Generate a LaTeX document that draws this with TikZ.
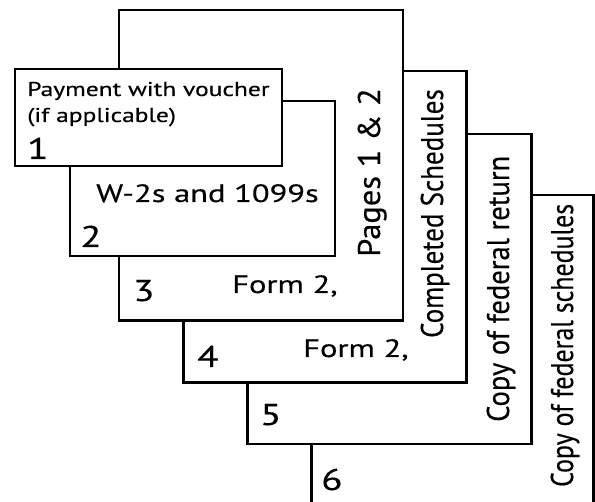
\documentclass[tikz,border=0pt]{standalone}
\usepackage{fontspec}
\setmainfont{PT Sans}[FakeBold=0.3]
\begin{document}
\begin{tikzpicture}[x=1pt,y=-1pt,
  page/.style={draw=black, line width=2.6pt, fill=white},
  htext/.style={anchor=base west, inner sep=0pt, xscale=1.3},
  small/.style={htext, font=\fontsize{20}{24}\selectfont, xscale=0.98},
  mid/.style={htext, font=\fontsize{25}{30}\selectfont},
  num/.style={htext, font=\fontsize{30}{36}\selectfont},
  vtext/.style={anchor=base west, inner sep=0pt, xscale=1.12, rotate=90,
    font=\fontsize{28}{34}\selectfont}]
\useasboundingbox (0,0) rectangle (595,502);
% page 6
\draw[page] (311.7,195) rectangle (593.3,510);
\node[vtext, xscale=0.925] (t6) at (573,487) {Copy of federal schedules};
\node[num] (n6) at (321,490) {6};
% page 5
\draw[page] (247.7,134) rectangle (531.7,444);
\node[vtext, xscale=1.02] (t5) at (509,422) {Copy of federal return};
\node[num] (n5) at (260,425) {5};
% page 4
\draw[page] (183.7,71) rectangle (466.7,382.7);
\node[vtext, xscale=0.965] (t4) at (443,338) {Completed Schedules};
\node[num] (n4) at (197,367) {4};
\node[mid] (f4) at (303,357) {Form 2,};
% page 3
\draw[page] (119,10) rectangle (403,320.7);
\node[vtext, xscale=1.16] (t3) at (380,257) {Pages 1 \& 2};
\node[num] (n3) at (133,301) {3};
\node[mid] (f3) at (232,293) {Form 2,};
% page 2
\draw[page] (70,101) rectangle (335,256);
\node[mid] (w2) at (96,202) {W-2s and 1099s};
\node[num] (n2) at (80,247) {2};
% page 1
\draw[page] (15,69) rectangle (282,166);
\node[small] (p1a) at (27,96) {Payment with voucher};
\node[small] (p1b) at (27,122) {(if applicable)};
\node[num] (n1) at (27,159) {1};
\end{tikzpicture}
\end{document}
